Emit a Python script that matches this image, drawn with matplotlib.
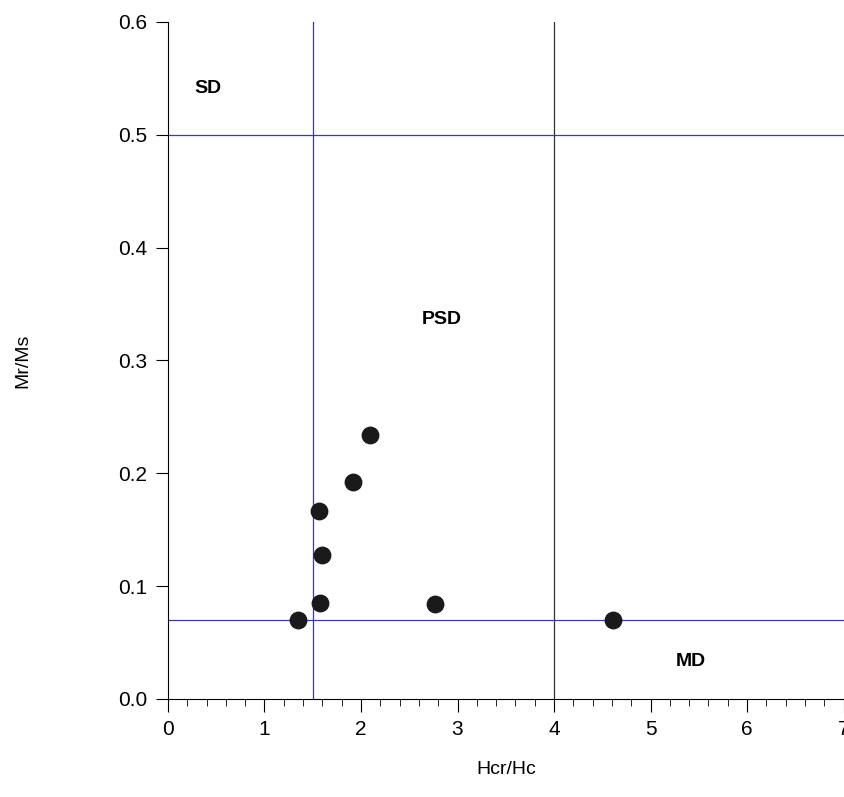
import matplotlib
matplotlib.use("Agg")
import matplotlib.pyplot as plt
from matplotlib.ticker import MultipleLocator

plt.rcParams['font.family'] = ['Liberation Sans', 'DejaVu Sans']

# Day plot data
hcr_hc = [1.35, 1.575, 1.596, 1.565, 1.917, 2.093, 2.767, 4.61]
mr_ms = [0.070, 0.085, 0.128, 0.167, 0.192, 0.234, 0.084, 0.070]

fig = plt.figure(figsize=(8.45, 7.97), dpi=100)
ax = fig.add_axes([0.1988, 0.1230, 0.7995, 0.8494])

ax.axvline(1.5, color='#3a3aa8', lw=0.9)
ax.axvline(4.0, color='#333333', lw=0.9)
ax.axhline(0.5, color='#3a3aa8', lw=0.9)
ax.axhline(0.07, color='#3a3aa8', lw=0.9)

ax.scatter(hcr_hc, mr_ms, s=140, color='#1a1a1a', zorder=3)

ax.text(0.41, 0.541, 'SD', fontsize=14, fontweight='bold', ha='center', va='center')
ax.text(2.84, 0.336, 'PSD', fontsize=14, fontweight='bold', ha='center', va='center')
ax.text(5.42, 0.033, 'MD', fontsize=14, fontweight='bold', ha='center', va='center')

ax.set_xlim(0, 7)
ax.set_ylim(0, 0.6)
ax.xaxis.set_major_locator(MultipleLocator(1))
ax.xaxis.set_minor_locator(MultipleLocator(0.2))
ax.yaxis.set_major_locator(MultipleLocator(0.1))
ax.yaxis.set_major_formatter(plt.FormatStrFormatter('%.1f'))
ax.tick_params(which='major', direction='out', length=9, labelsize=15, pad=6)
ax.tick_params(which='minor', direction='out', length=5)
ax.spines['top'].set_visible(False)
ax.spines['right'].set_visible(False)

ax.set_xlabel('Hcr/Hc', fontsize=14, labelpad=16)
ax.set_ylabel('Mr/Ms', fontsize=14, labelpad=62)

fig.savefig('out.png', dpi=100)
